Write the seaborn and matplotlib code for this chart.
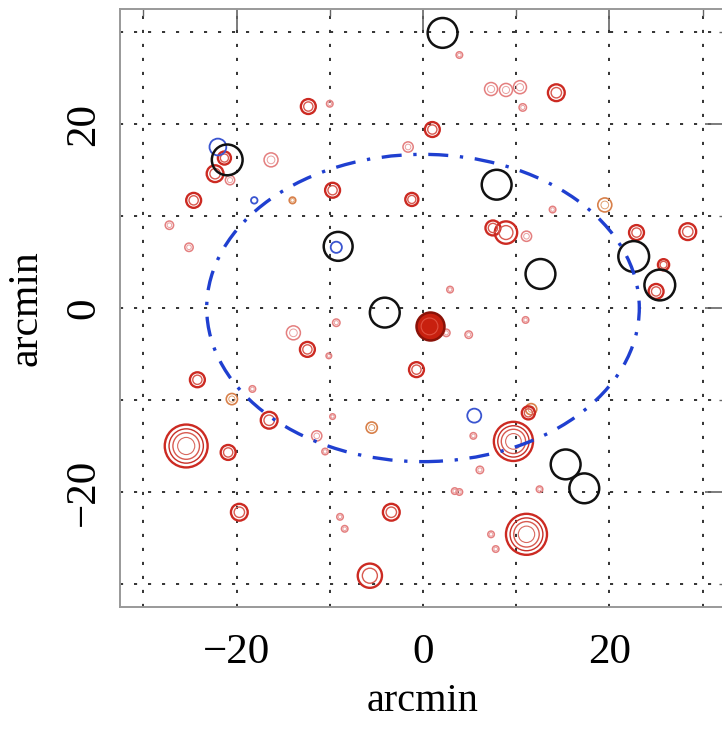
import numpy as np
import pandas as pd
import matplotlib
matplotlib.use("Agg")
import matplotlib.pyplot as plt
from matplotlib.patches import Ellipse
import seaborn as sns

# ---------------- data (arcmin) ----------------
black_x = [2.1, -21.0, 7.9, -9.1, 12.6, 22.6, 25.4, -4.1, 15.3, 17.3]
black_y = [29.9, 16.1, 13.4, 6.7, 3.7, 5.6, 2.5, -0.5, -17.0, -19.6]
black_r = [1.6, 1.65, 1.6, 1.55, 1.6, 1.65, 1.65, 1.6, 1.6, 1.6]

red_x = [-12.3, 1.0, 14.3, -22.3, -24.6, -9.7, -1.2, 8.9, 7.5, 22.9, 28.4, 25.8, 25.0,
         -0.7, -12.4, -24.2, -16.5, -25.4, -20.9, -19.7, -3.4, -5.7, 9.7, 11.3, 11.1, -21.3]
red_y = [21.9, 19.4, 23.4, 14.6, 11.7, 12.8, 11.8, 8.2, 8.7, 8.2, 8.3, 4.7, 1.8,
         -6.7, -4.5, -7.8, -12.2, -15.0, -15.7, -22.2, -22.2, -29.1, -14.5, -11.4, -24.6, 16.3]
red_r = [0.8, 0.8, 0.9, 0.9, 0.8, 0.8, 0.7, 1.2, 0.8, 0.8, 0.9, 0.6, 0.8,
         0.8, 0.8, 0.8, 0.9, 2.3, 0.8, 0.9, 0.9, 1.3, 2.1, 0.7, 2.2, 0.7]

pink_x = [7.3, 8.9, 10.4, 10.7, 3.9, -10.0, -1.6, -16.3, -20.7, -27.2, -25.1, 11.1, 13.9,
          2.9, 2.5, 4.9, -9.3, -10.1, -13.9, -18.3, -11.4, -10.5, -9.7, 5.4, 6.1, 3.4,
          3.9, -8.9, -8.4, 12.5, 7.3, 7.8, 11.0]
pink_y = [23.8, 23.7, 24.0, 21.8, 27.5, 22.2, 17.5, 16.1, 13.9, 9.0, 6.6, 7.8, 10.7,
          2.0, -2.7, -2.9, -1.6, -5.2, -2.7, -8.8, -13.9, -15.6, -11.8, -13.9, -17.6, -19.9,
          -20.0, -22.7, -24.0, -19.7, -24.6, -26.2, -1.3]
pink_r = [0.7, 0.7, 0.7, 0.4, 0.35, 0.35, 0.55, 0.75, 0.5, 0.45, 0.45, 0.55, 0.35,
          0.35, 0.4, 0.4, 0.4, 0.3, 0.75, 0.35, 0.55, 0.35, 0.3, 0.35, 0.4, 0.35,
          0.35, 0.35, 0.35, 0.35, 0.35, 0.35, 0.35]

orange_x = [-14.0, 19.5, -20.5, -5.5, 11.6]
orange_y = [11.7, 11.2, -9.9, -13.0, -11.0]
orange_r = [0.35, 0.75, 0.6, 0.6, 0.6]

blue_x = [-22.0, 5.5, -9.3, -18.1]
blue_y = [17.5, -11.7, 6.6, 11.7]
blue_r = [0.9, 0.75, 0.6, 0.35]

filled_x = [0.7]
filled_y = [-2.0]
filled_r = [1.5]

ellipse_center = (0.0, 0.0)
ellipse_semi = (23.2, 16.7)

xlim = (-32.5, 32.5)
ylim = (-32.5, 32.5)
major_ticks = [-20, 0, 20]
minor_ticks = [-30, -10, 10, 30]
grid_ticks = [-30, -20, -10, 0, 10, 20, 30]
axis_label = "arcmin"

# ---------------- figure ----------------
sns.set_theme(style="white")
plt.rcParams["font.family"] = ["Liberation Serif", "DejaVu Serif"]
plt.rcParams["text.color"] = "black"
plt.rcParams["axes.labelcolor"] = "black"

W, H, DPI = 722, 734, 100
fig = plt.figure(figsize=(W / DPI, H / DPI), dpi=DPI)
ax = fig.add_axes([120 / W, 127 / H, 606 / W, 598 / H])
ax.set_xlim(*xlim)
ax.set_ylim(*ylim)

# grid
for g in grid_ticks:
    ax.axvline(g, color="#333333", lw=1.4, ls=(0, (1.6, 5.6)), zorder=0.5)
    ax.axhline(g, color="#333333", lw=1.4, ls=(0, (1.6, 5.6)), zorder=0.5)

fig.canvas.draw()
bb = ax.get_window_extent()
ppu = bb.width / (xlim[1] - xlim[0])  # pixels per arcmin


def sizes(r, scale=1.0):
    return [(2 * ri * scale * ppu * 72 / DPI) ** 2 for ri in r]


def rings(x, y, r, color, lw, scale=1.0, z=2):
    df = pd.DataFrame({"x": x, "y": y})
    sns.scatterplot(data=df, x="x", y="y", s=sizes(r, scale), marker="o",
                    facecolor="none", edgecolor=color, linewidth=lw,
                    ax=ax, zorder=z, legend=False)


# pink small sources
rings(pink_x, pink_y, pink_r, "#e47f7f", 1.1)
rings(pink_x, pink_y, pink_r, "#e9a0a0", 0.7, scale=0.55)
# orange
rings(orange_x, orange_y, orange_r, "#d8804a", 1.2)
rings(orange_x, orange_y, orange_r, "#e0a070", 0.7, scale=0.55)
# red sources (double rings)
rings(red_x, red_y, red_r, "#cc2a22", 1.7)
rings(red_x, red_y, red_r, "#d85a50", 1.0, scale=0.62)
big = [i for i, r in enumerate(red_r) if r > 1.5]
rings([red_x[i] for i in big], [red_y[i] for i in big], [red_r[i] for i in big],
      "#c83028", 1.0, scale=0.8)
rings([red_x[i] for i in big], [red_y[i] for i in big], [red_r[i] for i in big],
      "#d86a60", 0.8, scale=0.4)
# filled bright source
dff = pd.DataFrame({"x": filled_x, "y": filled_y})
sns.scatterplot(data=dff, x="x", y="y", s=sizes(filled_r), marker="o",
                color="#c8200f", edgecolor="#8a1208", linewidth=1.8, ax=ax,
                zorder=3, legend=False)
rings(filled_x, filled_y, filled_r, "#e05040", 0.8, scale=0.6, z=3.5)
# blue
rings(blue_x, blue_y, blue_r, "#3a55d0", 1.3, z=3)
# black
rings(black_x, black_y, black_r, "#111111", 1.8, z=4)

# ellipse
ell = Ellipse(ellipse_center, 2 * ellipse_semi[0], 2 * ellipse_semi[1],
              fill=False, edgecolor="#1f3fd0", lw=2.4,
              ls=(0, (6, 3.5, 1, 3.5)), zorder=5)
ax.add_patch(ell)

# axes styling
for side in ["left", "bottom", "top"]:
    ax.spines[side].set_color("#999999")
    ax.spines[side].set_linewidth(1.4)
ax.spines["right"].set_visible(False)

ax.set_xticks(major_ticks)
ax.set_yticks(major_ticks)
ax.set_xticks(minor_ticks, minor=True)
ax.set_yticks(minor_ticks, minor=True)
ax.set_xticklabels([str(t).replace("-", "\u2212") for t in major_ticks])
ax.set_yticklabels([str(t).replace("-", "\u2212") for t in major_ticks],
                   rotation=90, va="center")
ax.tick_params(which="major", direction="in", length=15, width=1.2, color="#666666",
               top=True, right=True, labelsize=31, labelcolor="black")
ax.tick_params(which="minor", direction="in", length=5, width=1.0, color="#666666",
               top=True, right=True)
ax.tick_params(axis="x", pad=19)
ax.tick_params(axis="y", pad=12)

ax.set_xlabel(axis_label, fontsize=29, labelpad=8, color="black")
ax.set_ylabel(axis_label, fontsize=30, labelpad=14, color="black")

fig.savefig("out.png", dpi=DPI)
